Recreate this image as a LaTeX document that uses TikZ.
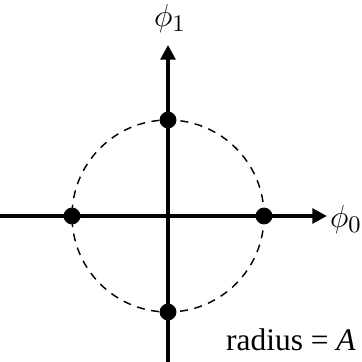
\documentclass[tikz,border=0pt]{standalone}
\usepackage{fontspec}
\setmainfont{Liberation Serif}
\usetikzlibrary{arrows.meta,calc}
\begin{document}
\begin{tikzpicture}[x=0.0133cm, y=-0.0133cm]
    % Define styles for axes and points
    \tikzstyle{axis} = [line width=1.5pt, -{Triangle[length=5.5pt, width=5.5pt]}]
    \tikzstyle{point} = [circle, fill=black, inner sep=0pt, minimum size=6.4pt]
    \tikzstyle{ring} = [dashed, line width=0.55pt, dash pattern=on 3pt off 2.5pt]

    \useasboundingbox (0,0) rectangle (362,362);

    % Axes end points
    \coordinate (origin) at (168,216);
    \coordinate (xstart) at (0,216);
    \coordinate (xend) at (327,216);
    \coordinate (ystart) at (168,362);
    \coordinate (yend) at (168,45);

    % Dashed circle
    \draw[ring] (origin) circle (96);

    % Draw the axes
    \draw[axis] (xstart) -- (xend);
    \draw[axis] (ystart) -- (yend);

    % Points on the circle
    \foreach \name/\ang in {east/0,north/90,west/180,south/270} {
        \node(\name)[point] at ($(origin)+(\ang:96)$) {};
      }

    % Labels
    \node(phione) at (170,19) {\fontsize{13}{15}\selectfont$\phi_1$};
    \node(phizero) at (346,220) {\fontsize{13}{15}\selectfont$\phi_0$};
    \node(radius) at (291,340) {\fontsize{11.9}{14}\selectfont radius = \textit{A}};
  \end{tikzpicture}
\end{document}
